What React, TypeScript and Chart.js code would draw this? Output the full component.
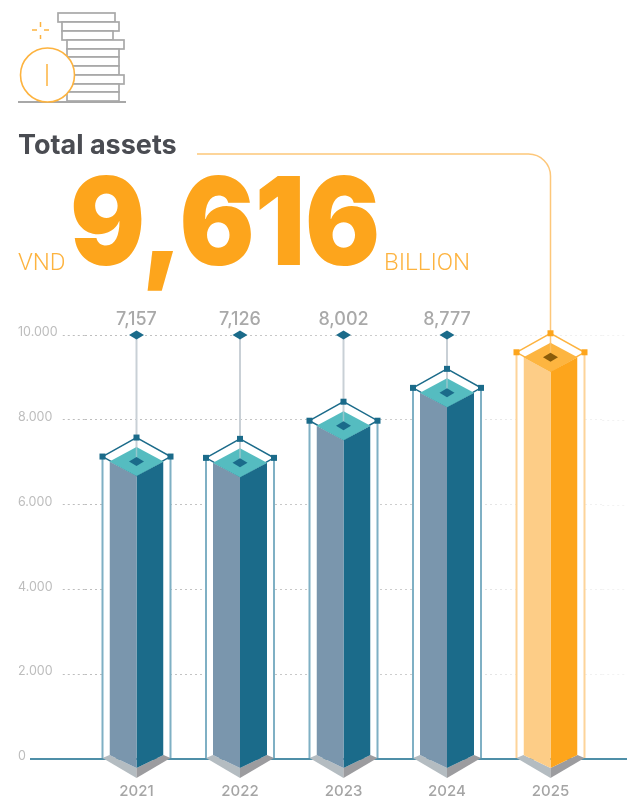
import React, { useEffect, useRef } from "react";
import { Chart, registerables } from "chart.js";

Chart.register(...registerables);

const years = ["2021", "2022", "2023", "2024", "2025"];
const totalAssets = [7157, 7126, 8002, 8777, 9616];
const yTicks = [0, 2000, 4000, 6000, 8000, 10000];
const highlightIndex = 4;

const TEAL = { left: "#7a96ad", right: "#1b6b8a", cap: "#55bcc0", pip: "#1b6b8a", wire: "#1b6b8a", post: "#7fb0c4", marker: "#1b6b8a", stem: "#c9d0d6" };
const ORANGE = { left: "#fdcd87", right: "#fda51c", cap: "#fdb540", pip: "#8a5c0a", wire: "#fdb33f", post: "#fdd49a", marker: "#fda51c", stem: "#fdc77a" };
const palette = (i: number) => (i === highlightIndex ? ORANGE : TEAL);

const HALF = 27, CAP_H = 14.5, WIRE_HALF = 34, WIRE_H = 19, CAP_DROP = 6;
const FONT = "Inter, sans-serif";

const diamond = (ctx: any, x: number, y: number, hw: number, hh: number) => {
  ctx.beginPath();
  ctx.moveTo(x - hw, y);
  ctx.lineTo(x, y - hh);
  ctx.lineTo(x + hw, y);
  ctx.lineTo(x, y + hh);
  ctx.closePath();
};
const poly = (ctx: any, pts: number[][], fill: string) => {
  ctx.beginPath();
  pts.forEach(([x, y], i) => (i ? ctx.lineTo(x, y) : ctx.moveTo(x, y)));
  ctx.closePath();
  ctx.fillStyle = fill;
  ctx.fill();
};
const centers = (chart: any) => totalAssets.map((_, i) => chart.scales.x.getPixelForValue(i));
const tops = (chart: any) => totalAssets.map((v) => chart.scales.y.getPixelForValue(v));

// grid dashes fade out towards the highlighted bar
const fade = (chart: any) => {
  const g = chart.ctx.createLinearGradient(62, 0, chart.width, 0);
  g.addColorStop(0, "#bdbdbd");
  g.addColorStop(0.65, "#cfcfcf");
  g.addColorStop(0.8, "#ececec");
  g.addColorStop(1, "#f3f3f3");
  return g;
};

const isoBars = {
  id: "isoBars",
  beforeDatasetsDraw(chart: any) {
    const { ctx, scales: { y } } = chart;
    const zero = y.getPixelForValue(0);
    const top = y.getPixelForValue(10000);
    const cx = centers(chart), ty = tops(chart);

    // extend grid to the right and draw the axis line
    ctx.save();
    ctx.strokeStyle = fade(chart);
    ctx.setLineDash([2, 3]);
    ctx.lineWidth = 1;
    yTicks.slice(1).forEach((t) => {
      const py = Math.round(y.getPixelForValue(t)) + 0.5;
      ctx.beginPath();
      ctx.moveTo(chart.chartArea.right, py);
      ctx.lineTo(chart.width, py);
      ctx.stroke();
    });
    ctx.setLineDash([]);
    ctx.strokeStyle = "#4f8fa8";
    ctx.lineWidth = 2;
    ctx.beginPath();
    ctx.moveTo(30, zero);
    ctx.lineTo(chart.width, zero);
    ctx.stroke();
    ctx.restore();

    cx.forEach((x, i) => {
      const c = palette(i);
      const capY = ty[i] + CAP_DROP;
      const wireY = capY - 5;
      ctx.save();
      // white backing so the grid stays out of the frame
      ctx.fillStyle = "#ffffff";
      ctx.fillRect(x - WIRE_HALF, wireY, WIRE_HALF * 2, zero - wireY - 1);
      // posts
      ctx.strokeStyle = c.post;
      ctx.lineWidth = 2;
      [x - WIRE_HALF, x + WIRE_HALF].forEach((px) => {
        ctx.beginPath();
        ctx.moveTo(px, wireY);
        ctx.lineTo(px, zero - 1);
        ctx.stroke();
      });
      // pedestal
      poly(ctx, [[x - WIRE_HALF, zero - 1], [x - HALF, zero - 4], [x, zero + 9], [x, zero + 19]], "#b4bcc1");
      poly(ctx, [[x + WIRE_HALF, zero - 1], [x + HALF, zero - 4], [x, zero + 9], [x, zero + 19]], "#9c9c9f");
      // wire outline
      diamond(ctx, x, wireY, WIRE_HALF, WIRE_H);
      ctx.fillStyle = "#ffffff";
      ctx.fill();
      ctx.strokeStyle = c.wire;
      ctx.lineWidth = 1.5;
      ctx.stroke();
      ctx.restore();
    });

    // stems and leader
    ctx.save();
    cx.forEach((x, i) => {
      const c = palette(i);
      if (i === highlightIndex) return;
      ctx.strokeStyle = c.stem;
      ctx.lineWidth = 2;
      ctx.beginPath();
      ctx.moveTo(x, top);
      ctx.lineTo(x, ty[i] + CAP_DROP);
      ctx.stroke();
    });
    const lx = cx[highlightIndex];
    ctx.strokeStyle = ORANGE.stem;
    ctx.lineWidth = 1.5;
    ctx.beginPath();
    ctx.moveTo(197, 154);
    ctx.lineTo(lx - 22, 154);
    ctx.arcTo(lx, 154, lx, 176, 22);
    ctx.lineTo(lx, ty[highlightIndex]);
    ctx.stroke();
    ctx.restore();

    // the bars are clipped to the shape of the prism's two front faces
    ctx.save();
    ctx.beginPath();
    cx.forEach((x, i) => {
      const capY = ty[i] + CAP_DROP;
      ctx.moveTo(x - HALF, capY);
      ctx.lineTo(x, capY + CAP_H);
      ctx.lineTo(x + HALF, capY);
      ctx.lineTo(x + HALF, zero - 4);
      ctx.lineTo(x, zero + 9);
      ctx.lineTo(x - HALF, zero - 4);
      ctx.closePath();
    });
    ctx.clip();
  },
  afterDatasetsDraw(chart: any) {
    const { ctx, scales: { y } } = chart;
    ctx.restore();
    const cx = centers(chart), ty = tops(chart);
    const top = y.getPixelForValue(10000);
    cx.forEach((x, i) => {
      const c = palette(i);
      const capY = ty[i] + CAP_DROP;
      const wireY = capY - 5;
      ctx.save();
      diamond(ctx, x, capY, HALF, CAP_H);
      ctx.fillStyle = c.cap;
      ctx.fill();
      // faint continuation of the stem across the cap
      ctx.strokeStyle = c.stem;
      ctx.globalAlpha = 0.55;
      ctx.lineWidth = 1.5;
      ctx.beginPath();
      ctx.moveTo(x, capY - CAP_H);
      ctx.lineTo(x, capY);
      ctx.stroke();
      ctx.globalAlpha = 1;
      diamond(ctx, x, capY, 7.5, 4.5);
      ctx.fillStyle = c.pip;
      ctx.fill();
      ctx.fillStyle = c.marker;
      [[x, wireY - WIRE_H], [x - WIRE_HALF, wireY], [x + WIRE_HALF, wireY]].forEach(([mx, my]) => {
        ctx.fillRect(mx - 3, my - 3, 6, 6);
      });
      if (i !== highlightIndex) {
        diamond(ctx, x, top, 7.5, 4.5);
        ctx.fillStyle = c.marker;
        ctx.fill();
        ctx.fillStyle = "#a9a9a9";
        ctx.font = `500 18px ${FONT}`;
        ctx.textAlign = "center";
        ctx.textBaseline = "middle";
        ctx.fillText(totalAssets[i].toLocaleString("en-US"), x, top - 15);
      }
      ctx.restore();
    });
  },
};

const faceColors = (side: "left" | "right") => totalAssets.map((_, i) => palette(i)[side]);

export default function App() {
  const ref = useRef<HTMLCanvasElement | null>(null);
  useEffect(() => {
    const chart = new Chart(ref.current!, {
      type: "bar",
      data: {
        labels: years,
        datasets: [
          { label: "Total assets", data: totalAssets, backgroundColor: faceColors("left"), base: -250, clip: false } as any,
          { label: "Total assets (shaded face)", data: totalAssets, backgroundColor: faceColors("right"), base: -250, clip: false } as any,
        ],
      },
      options: {
        animation: false,
        responsive: false,
        categoryPercentage: 54 / 103.5,
        barPercentage: 1,
        layout: { padding: { top: 335, right: 24.75, left: 18, bottom: 0 } },
        plugins: { legend: { display: false }, tooltip: { enabled: false }, title: { display: false } },
        scales: {
          x: {
            grid: { display: false },
            border: { display: false },
            afterFit: (s: any) => { s.height = 40; },
            ticks: { color: "#a5a5a5", padding: 15, maxRotation: 0, font: { family: FONT, size: 15, weight: "500" } },
          },
          y: {
            min: 0,
            max: 10000,
            afterFit: (s: any) => { s.width = 66.75; },
            afterBuildTicks: (s: any) => { s.ticks = yTicks.map((value) => ({ value })); },
            border: { display: false, dash: [2, 3] },
            grid: {
              color: (c: any) => (c.tick && c.tick.value === 0 ? "rgba(0,0,0,0)" : fade(c.chart)),
              tickColor: (c: any) => (c.tick && c.tick.value === 0 ? "rgba(0,0,0,0)" : "#bdbdbd"),
              tickLength: 22,
              tickBorderDash: [2, 3],
            },
            ticks: {
              color: "#bdbdbd",
              padding: 0,
              crossAlign: "far",
              font: { family: FONT, size: 12.5, lineHeight: 0.4 },
              // the empty second line lifts each label just above its grid line
              callback: (v: any) => [Number(v).toLocaleString("de-DE"), ""],
            },
          },
        },
      } as any,
      plugins: [isoBars],
    });
    return () => chart.destroy();
  }, []);

  const abs = (o: any): React.CSSProperties => ({ position: "absolute", whiteSpace: "nowrap", lineHeight: 1, ...o });
  const stack = [[58, 13, 57, 9], [62, 22, 57, 9], [62, 31, 51, 9], [67, 40, 57, 9], [67, 49, 52, 8], [67, 57, 52, 9], [67, 66, 52, 9], [72, 75, 52, 9], [67, 84, 52, 8], [67, 92, 52, 9]];

  return (
    <div style={{ position: "absolute", left: 0, top: 0, width: 627, height: 799, overflow: "hidden", background: "#fff" }}>
      <canvas ref={ref} width={627} height={799} style={{ display: "block", position: "absolute", left: 0, top: 0 }} />
      <svg width={140} height={110} style={{ position: "absolute", left: 0, top: 0 }}>
        {stack.map(([x, y, w, h], i) => (
          <rect key={i} x={x} y={y} width={w} height={h} fill="#fff" stroke="#a8a8a8" strokeWidth={1.7} />
        ))}
        <line x1={18} y1={102} x2={126} y2={102} stroke="#a8a8a8" strokeWidth={1.8} />
        <circle cx={47.5} cy={75} r={27} fill="#fff" stroke="#fdb33f" strokeWidth={1.6} />
        <line x1={47} y1={64} x2={47} y2={86} stroke="#fdb33f" strokeWidth={1.5} />
        <g stroke="#fdb33f" strokeWidth={1.5}>
          <line x1={32} y1={30} x2={37} y2={30} />
          <line x1={44} y1={30} x2={49} y2={30} />
          <line x1={40.5} y1={22} x2={40.5} y2={27} />
          <line x1={40.5} y1={35} x2={40.5} y2={39} />
        </g>
      </svg>
      <div style={abs({ left: 18, top: 131, fontFamily: "Inter, sans-serif", fontWeight: 700, fontSize: 27, color: "#4a4c52" })}>Total assets</div>
      <div style={abs({ left: 18, top: 250, fontFamily: "Roboto, sans-serif", fontWeight: 300, fontSize: 24, color: "#fdb33f" })}>VND</div>
      <div style={abs({ left: 70, top: 160, fontFamily: "Inter, sans-serif", fontWeight: 900, fontSize: 122, color: "#fda51c", transform: "scaleX(0.913)", transformOrigin: "left top" })}>9,616</div>
      <div style={abs({ left: 384, top: 250, fontFamily: "Roboto, sans-serif", fontWeight: 300, fontSize: 24, color: "#fdb33f" })}>BILLION</div>
    </div>
  );
}
